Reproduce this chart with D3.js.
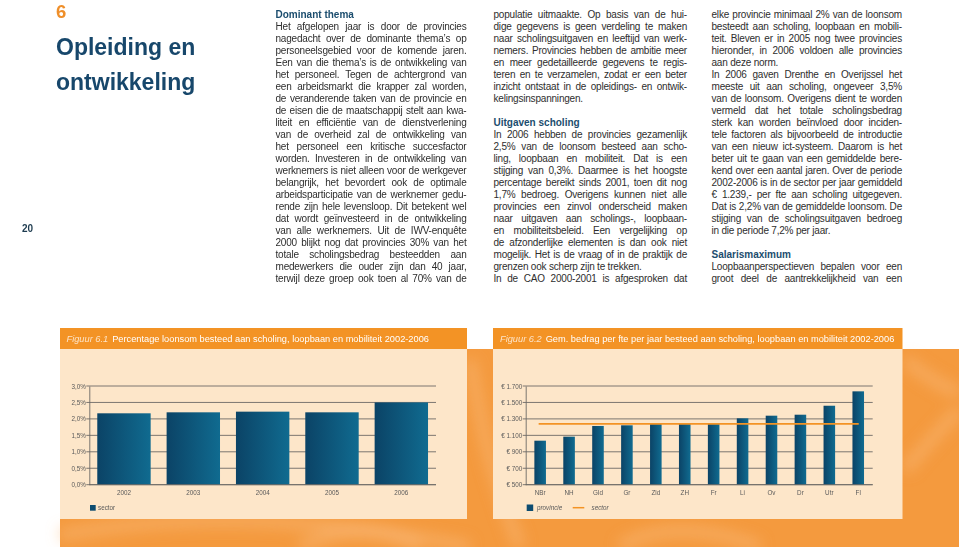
<!DOCTYPE html>
<html><head><meta charset="utf-8">
<script src="https://cdn.jsdelivr.net/npm/d3@7"></script>
<style>
body{margin:0;background:#fff;width:959px;height:547px;overflow:hidden;position:relative;font-family:"Liberation Sans",Arial,Helvetica,sans-serif;}
svg{position:absolute;left:0;top:0}
.col{position:absolute;font-size:10px;line-height:12px;color:#2e2e2e;letter-spacing:-0.2px;}
.col div{white-space:nowrap;height:12px;}
.col .j{text-align:justify;text-align-last:justify;}
.col .h{font-weight:bold;color:#1b4d6e;letter-spacing:0;}
</style></head><body>
<script>
// ---------- data ----------
const years = ["2002","2003","2004","2005","2006"];
const pctValues = [2.17, 2.20, 2.22, 2.20, 2.50];
const pctTicks = [0, 0.5, 1.0, 1.5, 2.0, 2.5, 3.0];

const provinces = ["NBr","NH","Gld","Gr","Zld","ZH","Fr","Li","Ov","Dr","Utr","Fl"];
const provValues = [1035, 1084, 1214, 1222, 1242, 1240, 1242, 1307, 1339, 1351, 1460, 1635];
const sectorValue = 1239;
const eurTicks = [500, 700, 900, 1100, 1300, 1500, 1700];

const fig1Label = "Figuur 6.1";
const fig1Title = "Percentage loonsom besteed aan scholing, loopbaan en mobiliteit 2002-2006";
const fig2Label = "Figuur 6.2";
const fig2Title = "Gem. bedrag per fte per jaar besteed aan scholing, loopbaan en mobiliteit 2002-2006";

const col1 = [
 ["h","Dominant thema"],
 ["j","Het afgelopen jaar is door de provincies"],
 ["j","nagedacht over de dominante thema’s op"],
 ["j","personeelsgebied voor de komende jaren."],
 ["j","Een van die thema’s is de ontwikkeling van"],
 ["j","het personeel. Tegen de achtergrond van"],
 ["j","een arbeidsmarkt die krapper zal worden,"],
 ["j","de veranderende taken van de provincie en"],
 ["j","de eisen die de maatschappij stelt aan kwa-"],
 ["j","liteit en efficiëntie van de dienstverlening"],
 ["j","van de overheid zal de ontwikkeling van"],
 ["j","het personeel een kritische succesfactor"],
 ["j","worden. Investeren in de ontwikkeling van"],
 ["j","werknemers is niet alleen voor de werkgever"],
 ["j","belangrijk, het bevordert ook de optimale"],
 ["j","arbeidsparticipatie van de werknemer gedu-"],
 ["j","rende zijn hele levensloop. Dit betekent wel"],
 ["j","dat wordt geïnvesteerd in de ontwikkeling"],
 ["j","van alle werknemers. Uit de IWV-enquête"],
 ["j","2000 blijkt nog dat provincies 30% van het"],
 ["j","totale scholingsbedrag besteedden aan"],
 ["j","medewerkers die ouder zijn dan 40 jaar,"],
 ["j","terwijl deze groep ook toen al 70% van de"]
];
const col2 = [
 ["j","populatie uitmaakte. Op basis van de hui-"],
 ["j","dige gegevens is geen verdeling te maken"],
 ["j","naar scholingsuitgaven en leeftijd van werk-"],
 ["j","nemers. Provincies hebben de ambitie meer"],
 ["j","en meer gedetailleerde gegevens te regis-"],
 ["j","teren en te verzamelen, zodat er een beter"],
 ["j","inzicht ontstaat in de opleidings- en ontwik-"],
 ["l","kelingsinspanningen."],
 ["b",""],
 ["h","Uitgaven scholing"],
 ["j","In 2006 hebben de provincies gezamenlijk"],
 ["j","2,5% van de loonsom besteed aan scho-"],
 ["j","ling, loopbaan en mobiliteit. Dat is een"],
 ["j","stijging van 0,3%. Daarmee is het hoogste"],
 ["j","percentage bereikt sinds 2001, toen dit nog"],
 ["j","1,7% bedroeg. Overigens kunnen niet alle"],
 ["j","provincies een zinvol onderscheid maken"],
 ["j","naar uitgaven aan scholings-, loopbaan-"],
 ["j","en mobiliteitsbeleid. Een vergelijking op"],
 ["j","de afzonderlijke elementen is dan ook niet"],
 ["j","mogelijk. Het is de vraag of in de praktijk de"],
 ["l","grenzen ook scherp zijn te trekken."],
 ["j","In de CAO 2000-2001 is afgesproken dat"]
];
const col3 = [
 ["j","elke provincie minimaal 2% van de loonsom"],
 ["j","besteedt aan scholing, loopbaan en mobili-"],
 ["j","teit. Bleven er in 2005 nog twee provincies"],
 ["j","hieronder, in 2006 voldoen alle provincies"],
 ["l","aan deze norm."],
 ["j","In 2006 gaven Drenthe en Overijssel het"],
 ["j","meeste uit aan scholing, ongeveer 3,5%"],
 ["j","van de loonsom. Overigens dient te worden"],
 ["j","vermeld dat het totale scholingsbedrag"],
 ["j","sterk kan worden beïnvloed door inciden-"],
 ["j","tele factoren als bijvoorbeeld de introductie"],
 ["j","van een nieuw ict-systeem. Daarom is het"],
 ["j","beter uit te gaan van een gemiddelde bere-"],
 ["j","kend over een aantal jaren. Over de periode"],
 ["j","2002-2006 is in de sector per jaar gemiddeld"],
 ["j","€ 1.239,- per fte aan scholing uitgegeven."],
 ["j","Dat is 2,2% van de gemiddelde loonsom. De"],
 ["j","stijging van de scholingsuitgaven bedroeg"],
 ["l","in die periode 7,2% per jaar."],
 ["b",""],
 ["h","Salarismaximum"],
 ["j","Loopbaanperspectieven bepalen voor een"],
 ["j","groot deel de aantrekkelijkheid van een"]
];

// ---------- page ----------
const W = 959, H = 547;
const svg = d3.select("body").append("svg").attr("width", W).attr("height", H);
const defs = svg.append("defs");
const grad = defs.append("linearGradient").attr("id","barGrad").attr("x1","0").attr("x2","1").attr("y1","0").attr("y2","0");
grad.append("stop").attr("offset","0%").attr("stop-color","#0b4366");
grad.append("stop").attr("offset","100%").attr("stop-color","#106b90");
const blur = defs.append("filter").attr("id","soft").attr("x","-20%").attr("y","-20%").attr("width","140%").attr("height","140%");
blur.append("feGaussianBlur").attr("stdDeviation", 7);

// orange background
svg.append("rect").attr("x",60).attr("y",349).attr("width",W-60).attr("height",H-349).attr("fill","#f49a3e");
const sw = svg.append("g").attr("filter","url(#soft)");
[
 "M60,535 C200,510 330,520 470,547",
 "M470,360 C480,420 490,470 520,547",
 "M905,360 C930,380 950,390 959,392",
 "M905,470 C930,440 950,420 959,410",
 "M620,547 C650,528 700,524 760,547",
 "M300,547 C340,528 380,524 420,547"
].forEach(d => sw.append("path").attr("d", d).attr("fill","none").attr("stroke","#f9b878").attr("stroke-width",12).attr("opacity",0.55));

// titles
svg.append("text").attr("x",56).attr("y",17.5).attr("font-size",18.5).attr("font-weight","bold").attr("fill","#ef8f2a").text("6");
svg.append("text").attr("x",56).attr("y",55).attr("font-size",23).attr("font-weight","bold").attr("fill","#17476b").text("Opleiding en");
svg.append("text").attr("x",56).attr("y",89.5).attr("font-size",23).attr("font-weight","bold").attr("fill","#17476b").text("ontwikkeling");
svg.append("text").attr("x",22).attr("y",232).attr("font-size",10).attr("font-weight","bold").attr("fill","#1e3c50").text("20");

// text columns
function column(x, y, w, lines){
  const c = d3.select("body").append("div").attr("class","col")
    .style("left", x+"px").style("top", y+"px").style("width", w+"px");
  lines.forEach(l => c.append("div").attr("class", l[0]).html(l[1] === "" ? "&nbsp;" : l[1]));
}
column(275.5, 8.7, 191, col1);
column(493.5, 8.7, 193.5, col2);
column(711.5, 8.7, 190.5, col3);

// ---------- charts ----------
function chart(opt){
  const g = svg.append("g");
  // header bar
  g.append("rect").attr("x",opt.px).attr("y",328).attr("width",opt.pw).attr("height",21).attr("fill","#f39325");
  const t = g.append("text").attr("x",opt.px+opt.tx).attr("y",341.8).attr("font-size",9.25).attr("fill","#fff");
  t.append("tspan").attr("font-style","italic").attr("fill","#fde3c6").text(opt.label);
  t.append("tspan").attr("dx",4).text(opt.title);
  // panel
  g.append("rect").attr("x",opt.px).attr("y",349).attr("width",opt.pw).attr("height",170).attr("fill","#fde6c9");

  const x = d3.scaleBand().domain(opt.cats).range([opt.x0, opt.x1]).paddingInner(opt.pi).paddingOuter(opt.po);
  const y = d3.scaleLinear().domain(opt.domain).range([484.7, 386]);

  // grid + ticks
  const grid = g.append("g");
  opt.ticks.forEach(v => {
    grid.append("line").attr("x1", opt.x0-3).attr("x2", opt.x1).attr("y1", y(v)).attr("y2", y(v))
      .attr("stroke","#6d6a66").attr("stroke-width",0.9);
  });
  const ax = g.append("g").attr("transform", `translate(${opt.x0},0)`)
    .call(d3.axisLeft(y).tickValues(opt.ticks).tickSize(0).tickPadding(3.5).tickFormat(opt.fmt));
  ax.select(".domain").attr("stroke","#6d6a66").attr("stroke-width",0.9);
  ax.selectAll("text").attr("font-size",6.3).attr("fill","#5a5a5a").attr("font-family","Liberation Sans, Arial, sans-serif");

  // bars
  g.append("g").selectAll("rect").data(opt.values).join("rect")
    .attr("x",(d,i)=>x(opt.cats[i])).attr("width",x.bandwidth())
    .attr("y",d=>y(d)).attr("height",d=>y(opt.domain[0])-y(d)).attr("fill","url(#barGrad)");
  g.append("line").attr("x1",opt.x0).attr("x2",opt.x1).attr("y1",y(opt.domain[0])).attr("y2",y(opt.domain[0]))
    .attr("stroke","#6d6a66").attr("stroke-width",0.9);

  // x labels
  const xa = g.append("g").attr("transform",`translate(0,${y(opt.domain[0])})`)
    .call(d3.axisBottom(x).tickSize(0).tickPadding(6));
  xa.select(".domain").remove();
  xa.selectAll("text").attr("font-size",6.3).attr("fill","#5a5a5a").attr("font-family","Liberation Sans, Arial, sans-serif");

  return {g, x, y};
}

const pctFmt = v => d3.format(".1f")(v).replace(".", ",") + "%";
const eurFmt = v => "€ " + d3.format(",")(v).replace(/,/g, ".");

const c1 = chart({px:60, pw:407, tx:6.5, label:fig1Label, title:fig1Title,
  cats:years, values:pctValues, domain:[0,3], ticks:pctTicks, fmt:pctFmt,
  x0:89.3, x1:436, pi:0.23, po:0.115});
c1.g.append("rect").attr("x",90).attr("y",505).attr("width",5.7).attr("height",5.7).attr("fill","#0d4c70");
c1.g.append("text").attr("x",98).attr("y",510).attr("font-size",6.3).attr("fill","#5a5a5a").text("sector");

const c2 = chart({px:493, pw:409.5, tx:7, label:fig2Label, title:fig2Title,
  cats:provinces, values:provValues, domain:[500,1700], ticks:eurTicks, fmt:eurFmt,
  x0:525.7, x1:872.7, pi:0.6, po:0.3});
c2.g.append("line")
  .attr("x1", c2.x(provinces[0]) + c2.x.bandwidth()/2 - 1.5)
  .attr("x2", c2.x(provinces[provinces.length-1]) + c2.x.bandwidth()/2 + 0.5)
  .attr("y1", c2.y(sectorValue)).attr("y2", c2.y(sectorValue))
  .attr("stroke","#f39325").attr("stroke-width",1.8);
c2.g.append("rect").attr("x",526.7).attr("y",504.5).attr("width",6.5).attr("height",6.5).attr("fill","#0d4c70");
c2.g.append("text").attr("x",537).attr("y",510).attr("font-size",6.3).attr("font-style","italic").attr("fill","#5a5a5a").text("provincie");
c2.g.append("line").attr("x1",572.7).attr("x2",584.3).attr("y1",507.7).attr("y2",507.7).attr("stroke","#f39325").attr("stroke-width",1.5);
c2.g.append("text").attr("x",591.5).attr("y",510).attr("font-size",6.3).attr("font-style","italic").attr("fill","#5a5a5a").text("sector");
</script>
</body></html>
